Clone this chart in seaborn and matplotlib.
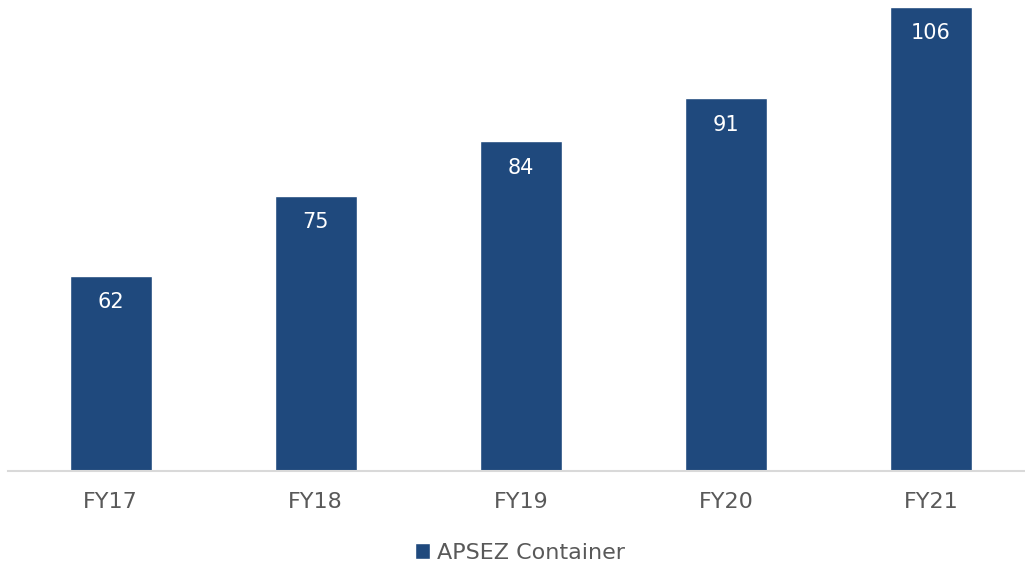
import pandas as pd
import matplotlib
matplotlib.use("Agg")
import matplotlib.pyplot as plt
import seaborn as sns

anos = ['FY17', 'FY18', 'FY19', 'FY20', 'FY21']
volumes = [62, 75, 84, 91, 106]
serie = 'APSEZ Container'

df = pd.DataFrame({'ano': anos, 'volume': volumes})

sns.set_style('white')
plt.rcParams['font.family'] = ['DejaVu Sans']

azul = '#1F497D'
cinza = '#595959'

fig = plt.figure(figsize=(10.25, 5.68), dpi=100)
ax = fig.add_axes([8 / 1025, 97 / 568, 1017 / 1025, 471 / 568])

sns.barplot(data=df, x='ano', y='volume', color=azul, width=0.4,
            saturation=1, label=serie, ax=ax)

ax.set_xlim(-0.5, 4.458)
ax.set_ylim(30, 107.1)
ax.set_xlabel('')
ax.set_ylabel('')
ax.set_yticks([])

for s in ['top', 'left', 'right']:
    ax.spines[s].set_visible(False)
ax.spines['bottom'].set_color('#D9D9D9')
ax.spines['bottom'].set_linewidth(1.5)

ax.tick_params(axis='x', length=0, pad=15, labelsize=16, labelcolor=cinza)

for p in ax.patches:
    x = p.get_x() + p.get_width() / 2
    y = p.get_height()
    ax.annotate(f'{y:.0f}', (x, y), xytext=(0, -19), textcoords='offset points',
                ha='center', va='center', color='white', fontsize=15)

if ax.legend_:
    ax.legend_.remove()
h, l = ax.get_legend_handles_labels()
fig.legend(h, l, loc='center', bbox_to_anchor=(0.507, 1 - 553 / 568),
           frameon=False, fontsize=16, labelcolor=cinza,
           handlelength=0.7, handleheight=0.7, handletextpad=0.3)

fig.savefig('out.png', dpi=100)
